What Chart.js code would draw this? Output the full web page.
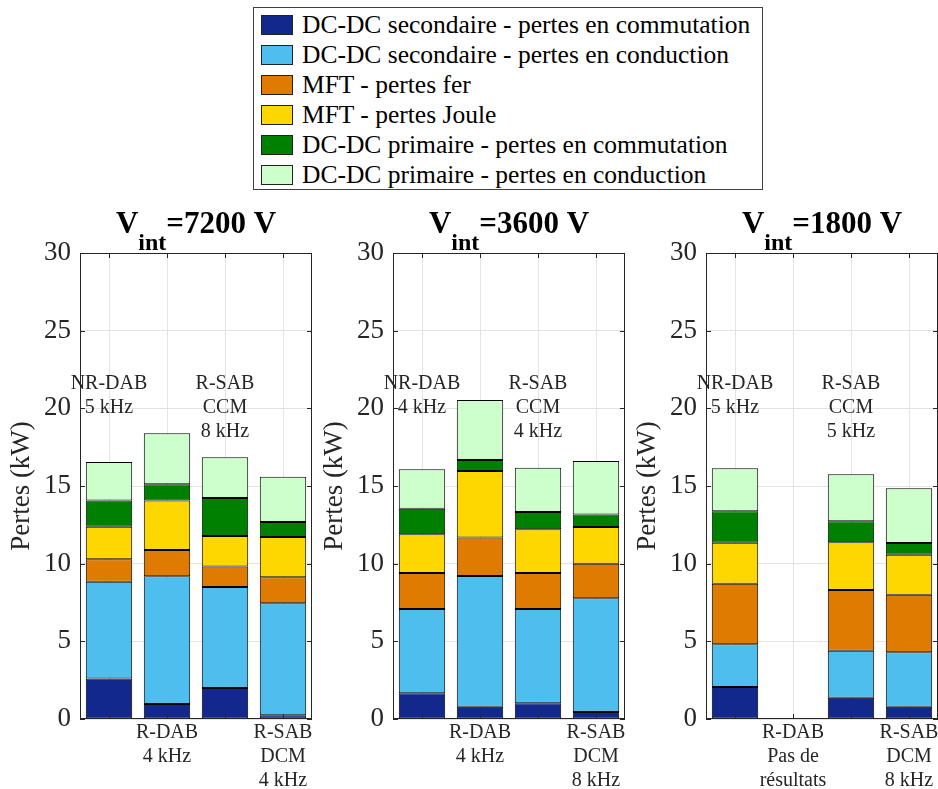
<!DOCTYPE html>
<html>
<head>
<meta charset="utf-8">
<script src="https://cdn.jsdelivr.net/npm/chart.js@4.4.1/dist/chart.umd.min.js"></script>
<style>
  body { margin: 0; background: #fff; width: 938px; height: 789px; position: relative; overflow: hidden; font-family: "Liberation Serif", "Times New Roman", serif; }
  .panel { position: absolute; top: 195px; width: 313px; height: 594px; }
  #legend { position: absolute; left: 253px; top: 7px; width: 510px; height: 183px; border: 1px solid #404040; box-sizing: border-box; padding-top: 2px; background: #fff; }
  .item { height: 30px; display: flex; align-items: center; font-size: 25.5px; color: #000; white-space: nowrap; }
  .swatch { width: 32px; height: 20px; border: 1px solid #222; margin-left: 7px; margin-right: 9px; box-sizing: border-box; }
</style>
</head>
<body>
<div id="legend"></div>
<div class="panel" style="left:0px"><canvas id="c0" width="313" height="594"></canvas></div>
<div class="panel" style="left:313px"><canvas id="c1" width="313" height="594"></canvas></div>
<div class="panel" style="left:626px"><canvas id="c2" width="313" height="594"></canvas></div>
<script>
// series (bottom to top of each stack)
const seriesNames = [
  "DC-DC secondaire - pertes en commutation",
  "DC-DC secondaire - pertes en conduction",
  "MFT - pertes fer",
  "MFT - pertes Joule",
  "DC-DC primaire - pertes en commutation",
  "DC-DC primaire - pertes en conduction"
];
const seriesColors = ["#13288c", "#4dbeee", "#df7b00", "#fed700", "#008000", "#ccffcc"];

// one row per panel (Vint = 7200, 3600, 1800 V), 4 converters each, kW
const secCommutation = [[2.6, 0.97, 2.0, 0.24], [1.65, 0.79, 1.01, 0.45], [2.06, null, 1.37, 0.79]];
const secConduction  = [[6.24, 8.22, 6.5, 7.21], [5.43, 8.42, 6.07, 7.32], [2.75, null, 3.03, 3.5]];
const mftFer         = [[1.44, 1.69, 1.31, 1.67], [2.32, 2.47, 2.32, 2.23], [3.9, null, 3.91, 3.71]];
const mftJoule       = [[2.1, 3.18, 1.97, 2.6], [2.49, 4.29, 2.81, 2.36], [2.64, null, 3.07, 2.58]];
const primCommutation = [[1.68, 1.05, 2.45, 0.96], [1.65, 0.71, 1.12, 0.8], [2.02, null, 1.35, 0.75]];
const primConduction  = [[2.49, 3.28, 2.62, 2.92], [2.54, 3.86, 2.85, 3.45], [2.77, null, 3.02, 3.52]];
const seriesData = [secCommutation, secConduction, mftFer, mftJoule, primCommutation, primConduction];

const panelVoltages = ["7200", "3600", "1800"];
// labels written above bars 1 and 3, below bars 2 and 4
const topLabels = [
  [["NR-DAB", "5 kHz"], null, ["R-SAB", "CCM", "8 kHz"], null],
  [["NR-DAB", "4 kHz"], null, ["R-SAB", "CCM", "4 kHz"], null],
  [["NR-DAB", "5 kHz"], null, ["R-SAB", "CCM", "5 kHz"], null]
];
const bottomLabels = [
  ["", ["R-DAB", "4 kHz"], "", ["R-SAB", "DCM", "4 kHz"]],
  ["", ["R-DAB", "4 kHz"], "", ["R-SAB", "DCM", "8 kHz"]],
  ["", ["R-DAB", "Pas de", "résultats"], "", ["R-SAB", "DCM", "8 kHz"]]
];
const yTicks = [0, 5, 10, 15, 20, 25, 30];

const serif = "'Liberation Serif', 'Times New Roman', serif";
const axisColor = "#262626";

// legend
const legend = document.getElementById("legend");
seriesNames.forEach((name, i) => {
  const row = document.createElement("div");
  row.className = "item";
  const sw = document.createElement("span");
  sw.className = "swatch";
  sw.style.background = seriesColors[i];
  const tx = document.createElement("span");
  tx.textContent = name;
  row.appendChild(sw);
  row.appendChild(tx);
  legend.appendChild(row);
});

const framePlugin = {
  id: "frame",
  afterDatasetsDraw(chart) {
    const { ctx, chartArea: a, scales } = chart;
    ctx.save();
    ctx.strokeStyle = axisColor;
    ctx.lineWidth = 1;
    ctx.strokeRect(Math.round(a.left) + 0.5, Math.round(a.top) + 0.5, Math.round(a.right - a.left) - 1, Math.round(a.bottom - a.top) - 1);
    ctx.beginPath();
    yTicks.forEach(v => {
      const y = Math.round(scales.y.getPixelForValue(v)) + 0.5;
      ctx.moveTo(a.left, y); ctx.lineTo(a.left + 5, y);
      ctx.moveTo(a.right, y); ctx.lineTo(a.right - 5, y);
    });
    chart.data.labels.forEach((l, i) => {
      const x = Math.round(scales.x.getPixelForValue(i)) + 0.5;
      ctx.moveTo(x, a.bottom); ctx.lineTo(x, a.bottom - 5);
      ctx.moveTo(x, a.top); ctx.lineTo(x, a.top + 5);
    });
    ctx.stroke();
    ctx.restore();
  },
  afterDraw(chart, args, opts) {
    const { ctx, chartArea: a, scales } = chart;
    ctx.save();
    // title V_int=xxxx V
    const cx = (a.left + a.right) / 2;
    const base = a.top - 20;
    const rest = "=" + opts.voltage + " V";
    ctx.font = "bold 31px " + serif;
    const wV = ctx.measureText("V").width;
    const wR = ctx.measureText(rest).width;
    ctx.font = "bold 24px " + serif;
    const wS = ctx.measureText("int").width;
    let x = cx - (wV + wS + wR) / 2;
    ctx.fillStyle = "#000";
    ctx.textBaseline = "alphabetic";
    ctx.textAlign = "left";
    ctx.font = "bold 31px " + serif;
    ctx.fillText("V", x, base);
    ctx.font = "bold 24px " + serif;
    ctx.fillText("int", x + wV, base + 17);
    ctx.font = "bold 31px " + serif;
    ctx.fillText(rest, x + wV + wS, base);
    // labels above bars
    ctx.font = "20px " + serif;
    ctx.fillStyle = axisColor;
    ctx.textAlign = "center";
    ctx.textBaseline = "middle";
    opts.top.forEach((lines, i) => {
      if (!lines) return;
      const px = scales.x.getPixelForValue(i);
      const py = scales.y.getPixelForValue(21.6);
      lines.forEach((t, k) => ctx.fillText(t, px, py + k * 24));
    });
    ctx.restore();
  }
};

function makePanel(p) {
  const ctx = document.getElementById("c" + p).getContext("2d");
  new Chart(ctx, {
    type: "bar",
    data: {
      labels: bottomLabels[p],
      datasets: seriesNames.map((name, s) => ({
        label: name,
        data: seriesData[s][p],
        backgroundColor: seriesColors[s],
        borderColor: "#000",
        borderWidth: 1,
        borderSkipped: false,
        barPercentage: 0.8,
        categoryPercentage: 1
      }))
    },
    options: {
      responsive: false,
      animation: false,
      events: [],
      layout: { padding: { top: 58, right: 1, left: 0, bottom: 0 } },
      plugins: {
        legend: { display: false },
        tooltip: { enabled: false },
        frame: { voltage: panelVoltages[p], top: topLabels[p] }
      },
      scales: {
        x: {
          stacked: true,
          grid: { color: "#e3e3e3", drawTicks: false, offset: false },
          border: { display: false },
          ticks: { font: { family: serif, size: 20, lineHeight: 1.2 }, color: axisColor, padding: 2, maxRotation: 0, autoSkip: false },
          afterFit(s) { s.height = 70; s.paddingLeft = 0; s.paddingRight = 0; }
        },
        y: {
          stacked: true,
          min: 0,
          max: 30,
          grid: { color: "#e3e3e3", drawTicks: false },
          border: { display: false },
          ticks: { stepSize: 5, font: { family: serif, size: 27 }, color: axisColor, padding: 9 },
          title: { display: true, text: "Pertes (kW)", font: { family: serif, size: 27 }, color: axisColor, padding: { top: 6, bottom: 0 } },
          afterFit(s) { s.width = 80; s.paddingTop = 0; s.paddingBottom = 0; }
        }
      }
    },
    plugins: [framePlugin]
  });
}

[0, 1, 2].forEach(makePanel);
</script>
</body>
</html>
